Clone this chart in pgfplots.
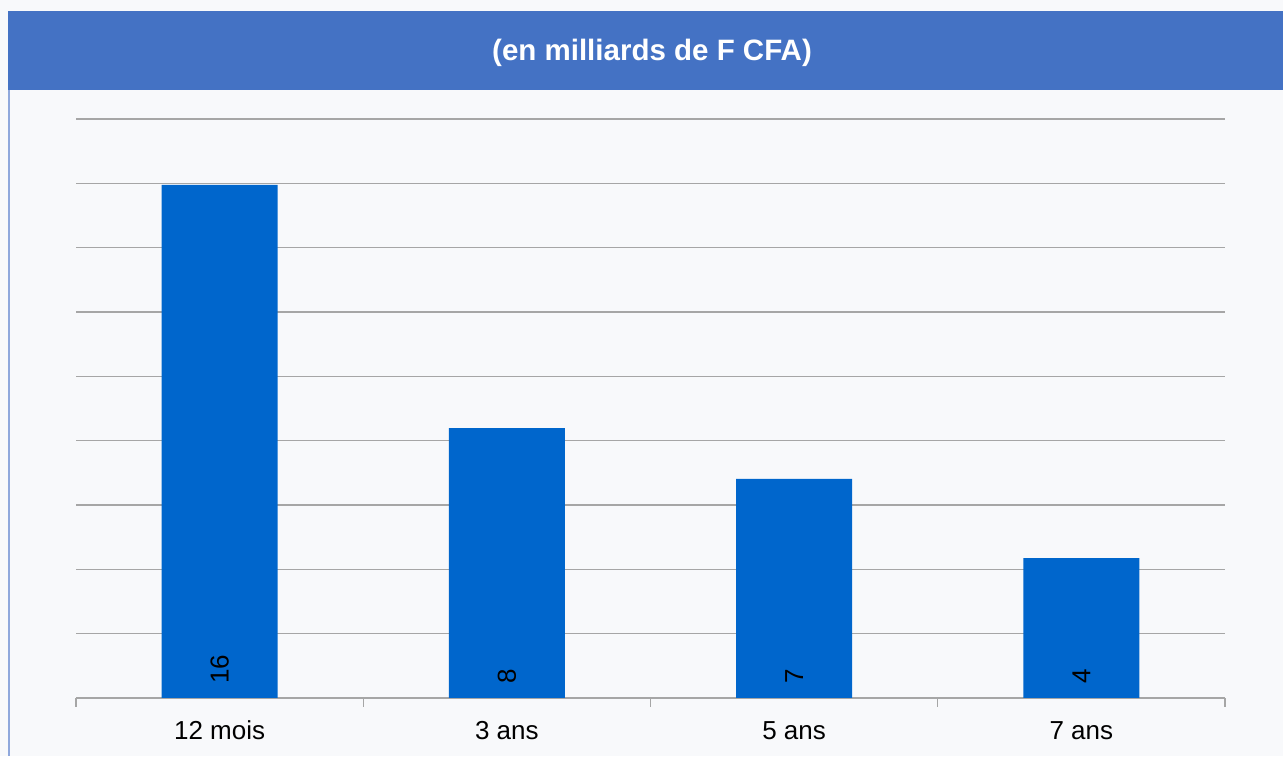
\documentclass[border=0pt]{standalone}
\usepackage{fontspec}
\setmainfont{Liberation Sans}
\usepackage{pgfplots}
\pgfplotsset{compat=1.18}
\definecolor{bg}{HTML}{F8F9FB}
\definecolor{hdr}{HTML}{4472C4}
\definecolor{barblue}{HTML}{0066CC}
\definecolor{gridgray}{HTML}{A6A6A6}
\definecolor{sideline}{HTML}{8FA8DC}
\begin{document}
\begin{tikzpicture}[x=1pt,y=1pt]
\fill[bg] (0,0) rectangle (1283,756);
\fill[hdr] (8,666) rectangle (1283,745);
\draw[sideline, line width=1.5pt] (9,0) -- (9,666);
\node[text=white, font=\fontsize{29.5}{32}\selectfont\bfseries] at (652,703) {(en milliards de F CFA)};
\begin{axis}[
  at={(76pt,58pt)}, anchor=south west,
  scale only axis, width=1149pt, height=579pt,
  xmin=-0.5, xmax=3.5, ymin=0, ymax=18,
  xtick={0,1,2,3},
  xticklabels={12 mois, 3 ans, 5 ans, 7 ans},
  minor xtick={-0.5,0.5,1.5,2.5,3.5},
  tick align=outside,
  major tick length=0pt,
  minor tick length=9pt,
  major x tick style={draw=none},
  minor x tick style={draw=gridgray, line width=1.5pt},
  ytick={2,4,...,18},
  yticklabels={},
  ytick style={draw=none},
  ymajorgrids,
  major grid style={draw=gridgray, line width=1.3pt},
  axis x line*=bottom, axis y line*=left,
  x axis line style={-, draw=gridgray, line width=1.5pt},
  y axis line style={draw=none},
  xticklabel style={anchor=base, inner sep=0pt, yshift=-42pt, font=\fontsize{26}{30}\selectfont},
  /pgf/number format/assume math mode=true,
]
\addplot[ybar, bar width=116pt, bar shift=0pt, fill=barblue, draw=none,
  visualization depends on=y \as \rawy,
  nodes near coords={\pgfmathprintnumber[fixed,precision=0]{\pgfplotspointmeta}},
  nodes near coords style={shift={(axis direction cs:0,-\rawy)}, yshift=14pt, rotate=90, anchor=west, inner sep=0pt, text=black, font=\fontsize{26}{30}\selectfont},
] coordinates {(0,15.95) (1,8.39) (2,6.81) (3,4.35)};
\end{axis}
\end{tikzpicture}
\end{document}
